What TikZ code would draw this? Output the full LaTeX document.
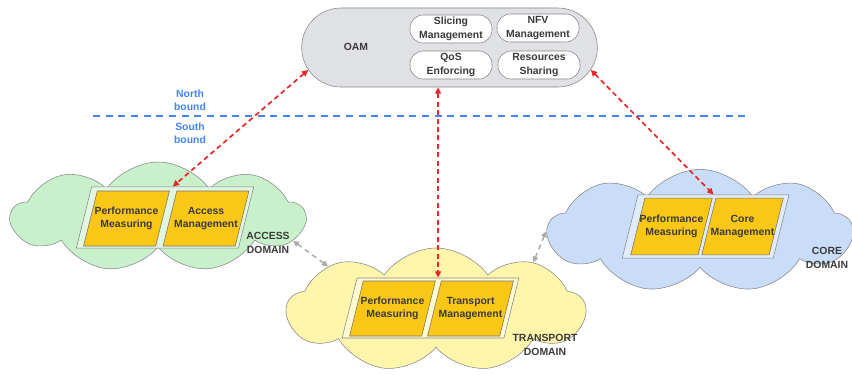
\documentclass[tikz,border=0pt]{standalone}
\usepackage{fontspec}
\setmainfont{Liberation Sans}
\usepackage{xcolor}
\usetikzlibrary{shapes,arrows.meta,positioning,calc}
\definecolor{oamgrey}{RGB}{224,225,229}
\definecolor{edgegrey}{RGB}{135,135,140}
\definecolor{accessgreen}{RGB}{200,241,203}
\definecolor{transportyellow}{RGB}{255,246,172}
\definecolor{coreblue}{RGB}{201,221,248}
\definecolor{funcyellow}{RGB}{250,199,22}
\definecolor{linkred}{RGB}{232,40,40}
\definecolor{boundblue}{RGB}{66,133,244}
\definecolor{textgrey}{RGB}{58,58,58}

\begin{document}
\begin{tikzpicture}[x=0.025cm, y=-0.025cm,
    every node/.style={font=\fontsize{7.4}{9.5}\selectfont\bfseries, text=textgrey, align=center},
    domaincloud/.style={cloud, cloud puffs=9, cloud puff arc=110, cloud ignores aspect,
        draw=edgegrey, thin},
    slanted/.style={trapezium, trapezium left angle=76, trapezium right angle=104,
        inner sep=0pt, text depth=0pt},
    frame/.style={slanted, draw=edgegrey, thin, text height=1.53cm},
    func/.style={slanted, draw=black!55, fill=funcyellow, thin,
        text width=1.46cm, text height=1.375cm, label={center:{#1}}},
    mgmt/.style={rectangle, rounded corners=0.33cm, draw=edgegrey, fill=white,
        minimum width=2.05cm, minimum height=0.7cm, inner sep=0pt},
    oamlink/.style={{Triangle[length=1.6mm,width=1.5mm]}-{Triangle[length=1.6mm,width=1.5mm]},
        linkred, line width=1.2pt, dash pattern=on 3.5pt off 2.5pt},
    peerlink/.style={{Triangle[length=1.5mm,width=1.4mm]}-{Triangle[length=1.5mm,width=1.4mm]},
        edgegrey!70, line width=1.1pt, dash pattern=on 3.5pt off 3pt},
    bound/.style={boundblue, line width=1.3pt, dash pattern=on 5pt off 4pt}
]
    \useasboundingbox (0,0) rectangle (852,377);

    % OAM
    \node[rounded rectangle, draw=edgegrey, fill=oamgrey, minimum width=7.625cm,
        minimum height=1.975cm] (oam) at (449.5,47.5) {};
    \node (oamlabel) at (356,47) {OAM};
    \node[mgmt] (slicing) at (451,29) {Slicing\\Management};
    \node[mgmt] (nfv) at (538,28) {NFV\\Management};
    \node[mgmt] (qos) at (451,65) {QoS\\Enforcing};
    \node[mgmt] (sharing) at (539,65) {Resources\\Sharing};

    % north / south bound
    \draw[bound] (93,116) -- (745,116);
    \node[text=boundblue] (north) at (190,100) {North\\bound};
    \node[text=boundblue] (south) at (190,133) {South\\bound};

    % domains
    \node[domaincloud, fill=accessgreen, minimum width=7.33cm, minimum height=2.75cm] (acc) at (158,217) {};
    \node[domaincloud, fill=transportyellow, minimum width=7.45cm, minimum height=3.1cm] (tp) at (436,310) {};
    \node[domaincloud, fill=coreblue, minimum width=7.6cm, minimum height=3.08cm] (core) at (700,231) {};

    \node[frame, fill=accessgreen!55!white, text width=3.67cm] (accframe) at (165,217.5) {};
    \node[func={Performance\\Measuring}] (accperf) at (126.5,218.5) {};
    \node[func={Access\\Management}] (accmgmt) at (206,218.5) {};
    \node (acclabel) at (268,243) {ACCESS\\DOMAIN};

    \node[frame, fill=transportyellow!55!white, text width=3.67cm, text height=1.5cm] (tpframe) at (430.5,308) {};
    \node[func={Performance\\Measuring}] (tpperf) at (392.5,308.5) {};
    \node[func={Transport\\Management}] (tpmgmt) at (470.5,308.5) {};
    \node (tplabel) at (545,345) {TRANSPORT\\DOMAIN};

    \node[frame, fill=coreblue!55!white, text width=3.38cm, text height=1.58cm] (coreframe) at (705.6,226.5) {};
    \node[func={Performance\\Measuring}, text width=1.33cm, text height=1.42cm] (coreperf) at (671.5,226.5) {};
    \node[func={Core\\Management}, text width=1.33cm, text height=1.42cm] (coremgmt) at (742.5,226.5) {};
    \node (corelabel) at (827,258) {CORE\\DOMAIN};

    % links
    \draw[oamlink] (oam.189) -- (accframe.top side);
    \draw[oamlink] (tpframe.top side |- oam.south) -- (tpframe.top side);
    \draw[oamlink] (oam.-9) -- (coreframe.top side);

    \draw[peerlink] (acc.-10) -- (tp.158);
    \draw[peerlink] (core.180) -- (tp.26);
\end{tikzpicture}
\end{document}
